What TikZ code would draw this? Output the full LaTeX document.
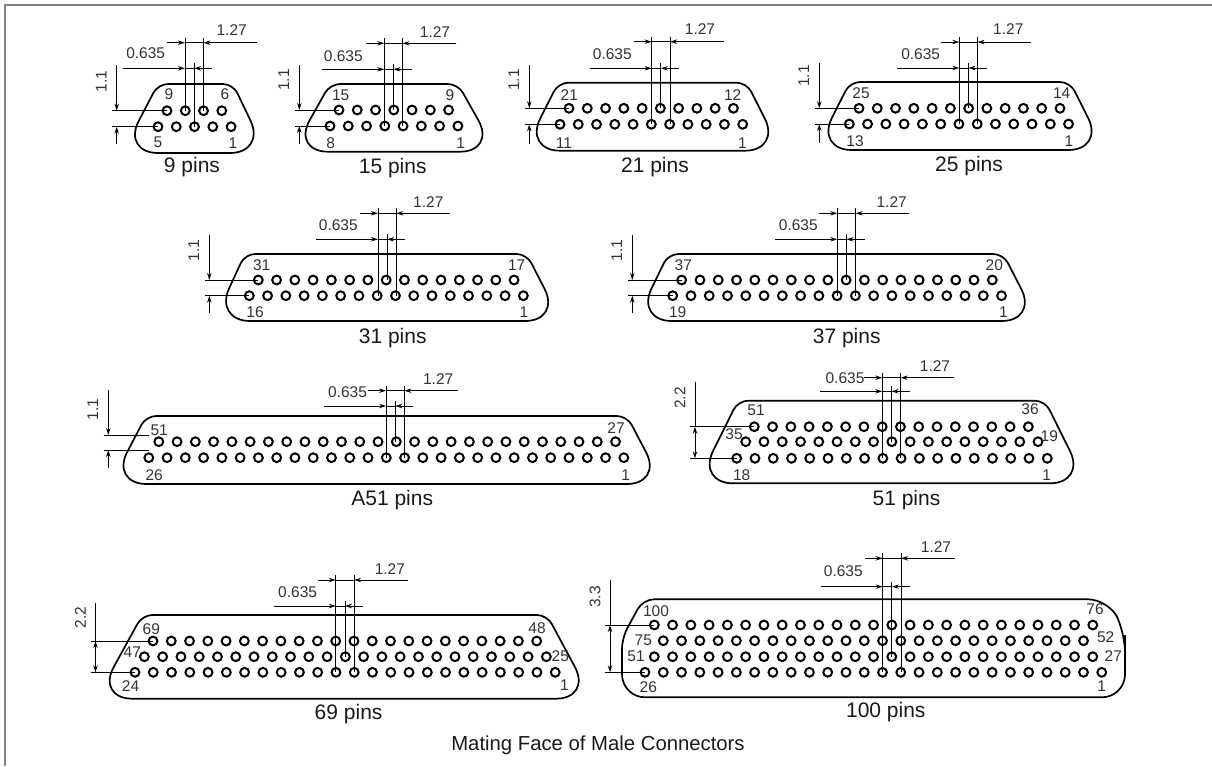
\documentclass[tikz,border=0pt]{standalone}
\usepackage{fontspec}
\setmainfont{Liberation Sans}
\usetikzlibrary{arrows.meta}
\definecolor{framegray}{HTML}{808080}
\definecolor{textgray}{HTML}{333333}
\tikzset{
  pin/.style={line width=2pt},
  shell/.style={line width=1.7pt},
  dimline/.style={line width=0.9pt,>={Stealth[length=7pt,width=4.4pt]}},
  num/.style={inner sep=0pt,text=textgray,font=\fontsize{15.5}{18}\selectfont},
  rot/.style={num,rotate=90},
  caption/.style={inner sep=0pt,text=black!90,font=\fontsize{21}{24}\selectfont},
  title/.style={inner sep=0pt,text=black!90,font=\fontsize{20.3}{24}\selectfont},
}
\newcommand{\pinnums}[2]{\foreach \t/\x/\y in {#2} \node[num] (#1-\t) at (\x,\y) {\t};}
\begin{document}
\begin{tikzpicture}[x=1pt,y=-1pt]
\useasboundingbox (0,0) rectangle (1212,766);
\draw[color=framegray,line width=2pt] (5,766) -- (5,5) -- (1212,5);
% shells
\foreach \tleft/\tright/\bleft/\bright/\ytop/\ybot in {168/223/158/230/84/153,340/448/328/460/84/151.7,
  568.3/736.7/560/745/82.7/150.7,860/1060/851.7/1068.3/82/150,255/516.7/250/525/254/321,
  678.3/993.3/671.7/1001.7/254/321,156/617/146.5/626.8/416/484,748/1035/733/1050/400.7/483.3,
  152.3/537/132.3/555.9/615/698.7}
  \draw[shell] ({\tleft+10},\ytop) [rounded corners=10pt] -- ({\tleft-10},\ytop) [rounded corners=36pt] -- ({\bleft-36},\ybot)
    -- ({\bright+36},\ybot) [rounded corners=10pt] -- ({\tright+10},\ytop) -- cycle;
\draw[shell] (700,599.3) [rounded corners=11pt] -- (643,599.3) -- (622,638) [rounded corners=23pt] -- (622,697.3)
  -- (1125,697.3) [rounded corners=20pt] -- (1125,632) -- (1108,599.3) -- cycle;
\draw[line width=2.4pt] (1125,635) -- (1125,673);
% pins: first x, y, count
\foreach \x/\y/\n in {167/110.7/4,158/126.7/5,339/110/7,330/126/8,569/108.3/10,560/124.3/11,859/108.3/12,849.3/124/13,
  258.3/280/15,249.3/295.7/16,681.7/280/18,672.7/295.7/19,158.8/441.7/26,148.8/457.7/27,
  754.3/426.7/16,745.7/441.7/17,736.7/458.3/18,153/641/22,144.4/656.7/23,135/672.3/24,
  654.3/625/25,663.3/640.7/24,654.3/656.7/25,645/672.3/26}
  \foreach \i in {1,...,\n} \draw[pin] ({\x+(\i-1)*18.27},\y) circle (4.4);
% pitch dimensions
\foreach \xa/\ya/\yb/\yo/\yc in {185/42.7/68.3/110.7/126.7,384.3/43.3/69.3/126/110,651.7/41.7/68.3/124.3/108.3,
  959.3/42/68/124/108.3,378/213.3/239.3/295.7/280,837.3/213.3/239.3/295.7/280,386.1/390.7/406/457.7/441.7,
  882.3/377.7/391.3/458.3/441.7,335.8/580/606/672.3/656.7,882.7/558.3/586.7/672.3/656.7}{
  \draw[dimline] (\xa,{\ya-5}) -- (\xa,\yo);
  \draw[dimline] ({\xa+18.3},{\ya-5}) -- ({\xa+18.3},\yo);
  \draw[dimline] ({\xa+9.15},{\yb-5}) -- ({\xa+9.15},\yc);
  \draw[dimline] (\xa,\ya) -- ({\xa+18.3},\ya);
  \draw[dimline,->] ({\xa-18},\ya) -- (\xa,\ya);
  \draw[dimline,->] ({\xa+72},\ya) -- ({\xa+18.3},\ya);
  \draw[dimline,->] ({\xa-62},\yb) -- (\xa,\yb);
  \draw[dimline,->] ({\xa+27.3},\yb) -- ({\xa+9.15},\yb);
  \draw[dimline] (\xa,\yb) -- ({\xa+9.15},\yb);
}
\foreach \c/\ax/\ay/\bx/\by in {d9/231.7/30/145.7/53,d15/435/32/343.3/55.7,d21/700/29/612.3/54,d25/1008.3/29/920.7/54,
  d31/428.3/201.7/338.3/225,d37/891.7/201.7/798.3/225,a51/438.2/379/347.5/391.7,d51/935/365.7/845/377.7,
  d69/389.9/569/297.6/591.7,d100/936/546.7/843.3/571}{
  \node[num] (\c-pitch) at (\ax,\ay) {1.27};
  \node[num] (\c-half) at (\bx,\by) {0.635};
}
% row spacing, arrows outside
\foreach \c/\x/\ys/\ye/\ra/\rb/\xa/\xb/\ly in {d9/116.7/65/144/110.7/126.7/167/158/81.7,d15/299.3/65/144/110/126/339/330/80,
  d21/529.3/65/144/108.3/124.3/569/560/80,d25/819.3/63.3/142.7/108.3/124/859/849.3/76,d31/209.3/235/313.3/280/295.7/258.3/249.3/250.7,
  d37/632.3/235/313.3/280/295.7/681.7/672.7/250.7,a51/108.3/390/468.3/435/450/148.5/148.5/409.3}{
  \draw[dimline] ({\x-4.5},\ra) -- (\xa,\ra);
  \draw[dimline] ({\x-4.5},\rb) -- (\xb,\rb);
  \draw[dimline,->] (\x,\ys) -- (\x,\ra);
  \draw[dimline,->] (\x,\ye) -- (\x,\rb);
  \node[rot] (\c-gap) at ({\x-15.5},\ly) {1.1};
}
% row spacing, arrows inside
\foreach \c/\x/\ys/\ra/\rb/\xa/\xb/\t/\ly in {d51/695/381.7/426.7/458.3/754.3/736.7/2.2/398,
  d69/95.5/603.3/641/672.3/153/135/2.2/617.7,d100/610/580/625/672.3/654.3/645/3.3/597}{
  \draw[dimline] ({\x-5},\ra) -- (\xa,\ra);
  \draw[dimline] ({\x-5},\rb) -- (\xb,\rb);
  \draw[dimline] (\x,\ys) -- (\x,\ra);
  \draw[dimline,<->] (\x,\ra) -- (\x,\rb);
  \node[rot] (\c-gap) at ({\x-15},\ly) {\t};
}
% pin numbers
\pinnums{d9}{9/169/94,6/225/94,5/158/142.7,1/233/142.7}
\pinnums{d15}{15/340.7/95.7,9/450/95,8/330.7/143,1/460.7/143}
\pinnums{d21}{21/569.3/95,12/732.7/95,11/564/142.7,1/742.3/142.7}
\pinnums{d25}{25/861/93.3,14/1061.7/93.3,13/855/141,1/1069/141}
\pinnums{d31}{31/261.7/265,17/516.7/265,16/255/312.3,1/524/312.3}
\pinnums{d37}{37/683.3/265,20/994.3/265,19/677.7/312.3,1/1003.3/312.3}
\pinnums{a51}{51/159.2/430,27/616/427.7,26/154.2/475,1/625.7/475}
\pinnums{d51}{51/756/410,35/734/434.3,18/741.7/475.5,36/1030/409.3,19/1049.3/435.7,1/1046.7/475.5}
\pinnums{d69}{69/151.3/629.3,48/537/627.7,47/132.3/651.7,25/560.3/655.7,24/130.6/685.7,1/564.5/685}
\pinnums{d100}{100/656/610.7,75/643.3/640,51/636/656.7,26/648.3/687.3,76/1095/609.3,52/1105.7/637.3,27/1113.3/655.7,1/1101.7/685.7}
% captions
\foreach \c/\x/\y/\t in {cap9/192/166.7/9 pins,cap15/392.7/167.7/15 pins,cap21/655/166.7/21 pins,cap25/969/165.7/25 pins,
  cap31/392.7/337.7/31 pins,cap37/846.7/338.3/37 pins,capa51/392.2/500/A51 pins,cap51/906.5/500/51 pins,
  cap69/348.6/714.3/69 pins,cap100/885.8/711.7/100 pins}
  \node[caption] (\c) at (\x,\y) {\t};
\node[title] (capall) at (598,745) {Mating Face of Male Connectors};
\end{tikzpicture}
\end{document}
